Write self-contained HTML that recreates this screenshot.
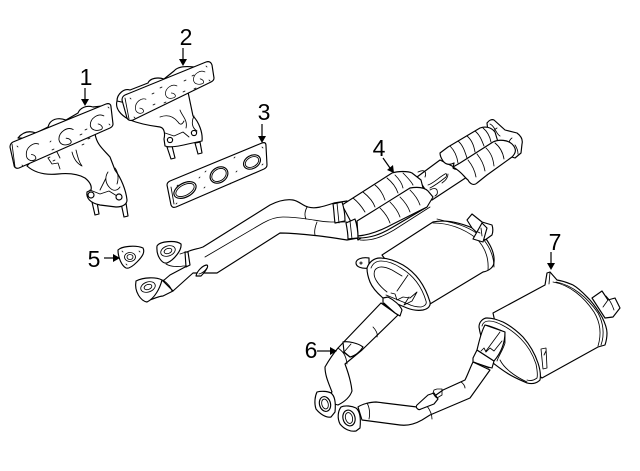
<!DOCTYPE html>
<html><head><meta charset="utf-8"><style>
html,body{margin:0;padding:0;background:#fff}
svg{display:block}
text{font-family:"Liberation Sans",sans-serif;font-size:23px;fill:#000;text-anchor:middle}
.l path,.l ellipse,.l circle,.l polyline,.l line{stroke:#000;stroke-width:1.15;fill:#fff;stroke-linejoin:round;stroke-linecap:round}
.l .n{fill:none;stroke-width:.85}
.l .d{fill:none;stroke-width:.8}
.a line{stroke:#000;stroke-width:1.2}
.a path{fill:#000;stroke:none}
</style></head><body>
<svg width="640" height="471" viewBox="0 0 640 471" xmlns="http://www.w3.org/2000/svg">
<g class="l">
<!-- Manifold 1 -->
<path d="M92 202l3 13 4-1-2-12zM121 203l3 14 4-1-2-13z"/>
<path d="M27 166C36 174 48 175 58 174C68 173 78 174 85 178C90 182 92 186 91 190L87 192C86 198 90 203 100 205L116 207C123 207 127 204 127 200C126 190 121 178 115 170L110 157C103 149 97 145 95 134L60 130Z"/>
<path class="n" d="M48 158l4 6 6-1 2 6M60 158l-4-8M72 152c2 8 6 12 10 14-3-4-4-8-6-16M108 172c-4 6-2 12 2 16 4 4 8 2 10-1M90 190l10 4 9-3 8 5M106 178l-6 12M115 168c3 4 4 10 2 16"/>
<circle cx="91" cy="195" r="3"/><circle cx="119" cy="197" r="3"/>
<path d="M18 138C22 133 28 130 36 133L48 127C50 119 58 117 66 120L78 113C80 108 86 105 93 107L103 106 60 140Z"/>
<path d="M10 147C10 145 11 143 13 142L106 104C109 103 111 104 111 107L113 124C113 126 112 127 110 128L19 168C16 169 14 167 14 165Z"/>
<path class="n" d="M12 144l3 23"/>
<path class="n" transform="translate(34 152) rotate(-10)" d="M6-7C1-10-7-6-8 1C-9 6-5 9-1 8C2 7 1 3-3 2"/>
<path class="n" transform="translate(67 137) rotate(-10) scale(1.05)" d="M7-6C2-10-7-6-8 1C-8 6-4 8 1 7C5 6 3 2-1 1"/>
<path class="n" transform="translate(98 123) rotate(-10)" d="M7-6C2-10-7-6-8 1C-8 6-3 8 2 7C5 6 3 2 0 1"/>
<g class="d"><path class="d" d="M17 146l1 1M22 165l1 1M108 107l1 1M109 124l1 1M52 150l2-1M80 135l2-1M82 145l2-1M48 158l2-1M88 139l2-1M50 142l1-1M53 161l2-1M85 130l2-1"/></g>
<!-- Manifold 2 -->
<path d="M167 147l4 12 4-1-3-12zM195 143l3 11 4-1-2-11z"/>
<path d="M117 101C115 108 120 115 130 120C140 124 152 126 160 127C165 128 165 135 164 139L165 146C170 148 180 146 188 144L202 141C203 133 199 122 193 116L188 92 170 80Z"/>
<path class="n" d="M160 117c8-3 14 0 18 5 2 3 4 3 6-1M180 110c2 6 8 10 6 18M165 133l9 3 9-4 6 5M194 116c-3 6-2 12 3 15"/>
<circle cx="170" cy="140" r="2.6"/><circle cx="194" cy="133" r="2.6"/>
<path d="M117 101C117 94 124 88 130 90L148 83C150 78 158 77 164 79L174 71C178 66 186 66 194 67L135 105Z"/>
<path d="M122 100C122 98 123 96 125 95L206 62C209 61 211 62 212 65L214 78C214 80 213 81 211 82L133 120C130 121 128 120 127 118Z"/>
<path class="n" d="M125 98l4 21"/>
<path class="n" transform="translate(142 106) rotate(-10) scale(.85)" d="M6-7C1-10-7-6-8 1C-9 6-5 9-1 8C2 7 1 3-3 2"/>
<path class="n" transform="translate(172 92) rotate(-10) scale(.85)" d="M7-6C2-10-7-6-8 1C-8 6-4 8 1 7C5 6 3 2-1 1"/>
<path class="n" transform="translate(200 78) rotate(-10) scale(.85)" d="M7-6C2-10-7-6-8 1C-8 6-3 8 2 7C5 6 3 2 0 1"/>
<path class="d" d="M130 98l1 1M134 117l1 1M206 66l1 1M209 80l1 1M152 94l2-1M160 88l2-1M153 105l2-1M164 103l2-1M184 81l2-1M192 76l2-1M183 92l2-1M194 89l2-1"/>
<!-- Gasket 3 -->
<path d="M167 185C167 183 168 182 170 181L262 143C265 142 266 143 266 146L267 165C267 167 266 168 264 169L176 207C173 208 172 207 171 205Z"/>
<path class="n" d="M171 187l3 17"/>
<ellipse cx="185" cy="190" rx="12" ry="7" transform="rotate(-28 185 190)"/><ellipse cx="185" cy="190" rx="10" ry="5.2" transform="rotate(-28 185 190)" class="n"/>
<ellipse cx="219" cy="175" rx="9.5" ry="7.5" transform="rotate(-35 219 175)"/><ellipse cx="219" cy="175" rx="7.8" ry="5.8" transform="rotate(-35 219 175)" class="n"/>
<ellipse cx="252" cy="162" rx="9" ry="6.5" transform="rotate(-30 252 162)"/><ellipse cx="252" cy="162" rx="7.2" ry="4.8" transform="rotate(-30 252 162)" class="n"/>
<path class="d" d="M177 186l1-1M176 204l1-1M262 147l1 1M262 165l1-1M199 178l1-1M205 172l1-1M204 188l1-1M234 158l1-1M236 172l1-1M230 184l1-1"/>
<!-- Gasket 5 -->
<path d="M118 250C122 246 136 245 143 248C145 252 143 256 137 262C133 266 129 269 126 268C122 266 118 258 118 250Z"/>
<ellipse cx="130" cy="257" rx="5.5" ry="4.5" class="n"/><ellipse cx="130" cy="257" rx="3" ry="2.5" class="n"/>
<path class="d" d="M122 251l1 1M139 251l1 1M126 264l1 1"/>
<!-- Rear cats and flange -->
<path d="M487 123C489 120 492 119 494 120L505 130 517 133C521 136 523 140 522 144L521 153 515 158 490 150Z"/>
<path class="n" d="M490 124c5 2 6 10 10 12M512 138c-3 2-4 6-2 10M515 145c2 3 3 6 3 9M497 128c-4 2-5 6-4 10"/>
<!-- Center pipe between cats -->
<path d="M417 177L440 160 470 175 432 200Z"/>
<path class="n" d="M428 185c6-2 10-7 17-11 2-1 2 1 1 3-5 4-10 8-16 11M442 183c3-2 6-5 6-9"/>
<path d="M440 153L448 147 480 128C485 126 491 127 495 132L498 142 465 166C460 170 455 170 453 168L454 163C450 165 446 165 443 161 441 158 440 155 440 153Z"/>
<path d="M453 167L460 163 493 142C499 139 508 140 512 144 517 149 516 153 512 157L487 175 477 183C474 186 470 184 468 180 464 177 462 172 453 167Z"/>
<path class="n" d="M450 146c4 4 7 10 8 17M458 141c5 4 7 11 9 17M467 136c5 4 7 10 8 16M475 131c5 4 7 10 9 15M483 128c5 4 7 9 8 14M468 160c4 5 7 11 8 17M477 154c4 5 7 11 8 17M486 148c5 5 7 10 8 18M495 143c5 4 8 10 9 16"/>
<!-- Front pipes -->
<path d="M187 252C193 249 198 249 203 247L270 205C278 201 286 199 293 200C299 201 303 206 308 207C315 209 322 207 334 203L347 201 358 238 347 240C335 238 322 236 310 235C300 234 290 233 280 233L217 273 193 273 173 291 163 281 170 275 187 266Z"/>
<path class="n" d="M205 257L263 223c7-4 14-6 20-6 8 0 17 1 24 2M307 219c8 1 15 3 24 3l16 0M307 207c-2 4-3 8-1 12M317 222c-2 5-3 9-2 13"/>
<path d="M185 252l3 0 2 13-4 2Z"/>
<path d="M196 276C197 271 203 265 207 265C209 266 206 271 201 276Z"/>
<path class="n" d="M199 274c4-1 6-3 8-6"/>
<!-- Flanges -->
<path class="n" d="M166 264c5 3 13 3 17 2l4 0M180 254l6-2"/>
<path d="M157 246C160 241 176 240 181 244C182 250 174 260 167 263C162 264 156 256 157 246Z"/>
<ellipse cx="168" cy="251" rx="7.5" ry="5" transform="rotate(-20 168 251)" class="n"/><ellipse cx="168" cy="251" rx="4" ry="2.5" transform="rotate(-20 168 251)" class="n"/>
<path d="M150 300C155 298 160 296 163 296L173 291 163 281 160 280Z"/>
<path class="n" d="M163 280c4 3 8 7 9 11"/>
<path d="M136 281C144 277 156 277 162 280C160 288 155 298 147 302C141 301 134 292 136 281Z"/>
<ellipse cx="148" cy="287" rx="7.5" ry="5" transform="rotate(-20 148 287)" class="n"/><ellipse cx="148" cy="287" rx="4" ry="2.5" transform="rotate(-20 148 287)" class="n"/>
<!-- Front cats -->
<path d="M342 205L392 173C398 171 408 171 412 173L421 180 423 188 410 205 358 240 350 220Z"/>
<path d="M358 238C370 238 380 235 393 227L427 207 430 200 352 225Z"/>
<path class="n" d="M360 240c12 1 22-3 34-10l36-23M362 233l65-37"/>
<path d="M357 221L370 213 410 188C416 187 424 187 428 191L433 197 427 207 393 224C382 230 370 235 358 236Z"/>
<path class="n" d="M353 198c5 4 9 9 12 14M363 192c5 4 10 9 12 15M375 185c5 4 8 9 10 15M387 178c5 4 9 9 11 15M395 175c4 4 7 8 8 13M403 173c4 4 8 8 10 12M380 208c4 4 8 9 10 15M390 202c4 4 8 9 10 15M400 197c4 4 8 9 10 15M410 190c4 4 8 9 10 15"/>
<path class="n" d="M418 172c2-1 4-2 6-1 2 1 2 4 1 6M430 190c3-2 6-2 7 0 1 3 0 5-2 6"/>
<!-- Bands -->
<path d="M333 204L342 202C344 208 345 214 345 221L335 223C334 216 334 210 333 204Z"/>
<path class="n" d="M337 203l2 20"/>
<path d="M346 223L355 219C357 225 358 232 358 238L348 239C348 234 347 228 346 223Z"/>
<path class="n" d="M350 221l2 18"/>
<!-- Muffler 1 -->
<path d="M382 255L433 222C448 219 464 224 477 230C488 238 495 252 494 262C494 267 489 271 483 272L430 304 400 280Z"/>
<path class="n" d="M437 219l12 3c14 3 26 8 34 17 8 9 11 20 11 28M433 223c16 0 31 6 43 15 9 9 13 19 12 32"/>
<path d="M467 220L472 214 482 222 492 225C493 228 493 232 492 235L485 240 472 228Z"/>
<path d="M473 239L482 223 487 228 483 242Z"/>
<path class="n" d="M481 228l1 8M478 232l2 1"/>
<path d="M369 258C362 257 356 259 356 263C356 267 362 269 369 268Z"/>
<circle class="n" cx="361" cy="263" r="1"/>
<path d="M367 268C369 262 374 258 380 258C388 258 396 261 403 265C413 271 424 282 430 302C431 306 428 309 423 310C417 311 412 310 407 308L383 298C376 292 372 287 370 282C368 277 367 272 367 268Z"/>
<path class="n" d="M371 268C373 263 377 261 381 261C388 261 395 264 401 268C411 274 421 284 426 301C427 304 425 306 421 307C416 307 412 306 408 304L386 295"/>
<path class="n" d="M375 270C378 266 384 266 392 270L402 276M375 270c-3 6 2 14 12 22M408 275l-11 16M391 293l4 1 2 6 6-3 7 1 7-6-5 9-8 4 5-8"/>
<!-- Pipe 6 -->
<path d="M381 303L338 348C333 354 329 360 325 367C325 376 329 384 332 392L320 400 338 405C344 402 350 397 352 391C351 381 348 372 345 364L362 350 398 315Z"/>
<path class="n" d="M373 327c3 3 5 7 4 10"/>
<path d="M383 298L388 297C394 300 400 305 402 310L400 316 395 313 383 303Z"/>
<path class="n" d="M384 303l11 10"/>
<path d="M343 342C348 341 358 343 363 347C360 352 355 356 350 357L344 352Z"/>
<path class="n" d="M338 348c4 3 8 6 9 16M343 352l7 5M351 344l-7 8"/>
<!-- Flange A -->
<path d="M317 392C321 391 327 391 331 393 335 396 336 402 335 412L331 417C326 418 320 414 316 409 314 403 315 396 317 392Z"/>
<ellipse cx="325" cy="404" rx="5.5" ry="7.5" transform="rotate(-15 325 404)"/><ellipse cx="325" cy="404" rx="3.2" ry="5" transform="rotate(-15 325 404)" class="n"/>
<!-- Right Y pipe -->
<path d="M358 407C362 404 371 402 376 402L417 407C422 406 425 402 429 400L443 390 465 380C468 374 470 368 473 362L490 370 470 398 430 415 422 420C415 424 408 426 400 425L362 420Z"/>
<path class="n" d="M367 403c3 5 3 12 2 16M432 419c0-5-2-9-5-13M461 382c2 1 4 4 4 6"/>
<path d="M417 405C415 407 418 411 421 409L434 404 438 399 434 393 428 395Z"/>
<path class="n" d="M437 398l5-3 0-6-5 0-3 1-1 3c1 2 2 4 4 5"/>
<!-- Flange B -->
<path d="M341 407C345 405 352 406 356 408 360 411 361 418 360 428L356 431C350 432 344 429 340 424 337 418 338 411 341 407Z"/>
<ellipse cx="349" cy="418" rx="6" ry="8" transform="rotate(-15 349 418)"/><ellipse cx="349" cy="418" rx="3.5" ry="5.5" transform="rotate(-15 349 418)" class="n"/>
<!-- Muffler 2 -->
<path d="M592 298L602 291 608 300 615 298 620 308 613 317 605 318Z"/>
<path class="n" d="M606 296c3 3 6 8 8 14M608 300l-5 7"/>
<path d="M493 313L545 285 547 273 550 272 557 280C564 281 568 283 573 285C580 289 585 295 590 300C596 307 599 312 602 317C605 323 607 328 607 333C607 338 606 342 605 345L598 347 542 378 500 345Z"/>
<path class="n" d="M556 282C572 285 587 297 598 313C603 322 605 334 601 345M553 282C570 285 584 297 594 312C600 322 602 333 598 346M550 272l-1 12"/>
<path class="n" d="M541 349l2 20 4-1-1-20-5 1M546 351l-2 4"/>
<path d="M479 327C479 322 483 318 487 318C493 318 498 320 503 322C511 326 518 332 523 337C530 345 535 354 538 363C540 369 541 375 540 380C536 384 531 384 527 383C520 380 513 377 507 373C502 370 497 366 493 363C487 353 481 340 479 327Z"/>
<path class="n" d="M482 326C483 322 486 321 489 321C494 321 498 323 502 325C510 329 516 334 521 339C528 346 533 355 536 364C537 369 538 374 537 378C533 381 530 381 527 380"/>
<path class="n" d="M485 325C489 325 498 329 505 332L505 343C503 350 499 355 497 361M485 325L478 347M500 332l-14 19M484 351l3-3 2 4 4-4 4 3 8-10M500 360c4 8 14 16 27 22"/>
<!-- Band 7 pipe -->
<path d="M473 358L477 350 494 361 492 368 488 367 473 362Z"/>
<path class="n" d="M474 362l15 6"/>
<path d="M477 350C479 342 481 332 485 325L505 332C505 345 500 354 494 361Z" stroke-width="1"/>
<path class="n" d="M500 332l-14 19M481 351l3-3 2 4 4-4 4 3 8-10"/>
</g>
<g class="a">
<line x1="85" y1="88" x2="85" y2="100"/><path d="M81 99h8l-4 7z"/>
<line x1="183" y1="48" x2="183" y2="60"/><path d="M179 59h8l-4 7z"/>
<line x1="262" y1="124" x2="262" y2="137"/><path d="M258 136h8l-4 7z"/>
<line x1="383" y1="158" x2="390" y2="168"/><path d="M387 170l6-5 1 8z"/>
<line x1="104" y1="258" x2="114" y2="258"/><path d="M113 254v8l7-4z"/>
<line x1="317" y1="351" x2="331" y2="351"/><path d="M330 347v8l7-4z"/>
<line x1="551" y1="252" x2="551" y2="264"/><path d="M547 263h8l-4 7z"/>
</g>
<text x="86" y="85">1</text>
<text x="186" y="45">2</text>
<text x="264" y="120">3</text>
<text x="379" y="156">4</text>
<text x="94" y="267">5</text>
<text x="311" y="358">6</text>
<text x="555" y="250">7</text>
</svg>
</body></html>
